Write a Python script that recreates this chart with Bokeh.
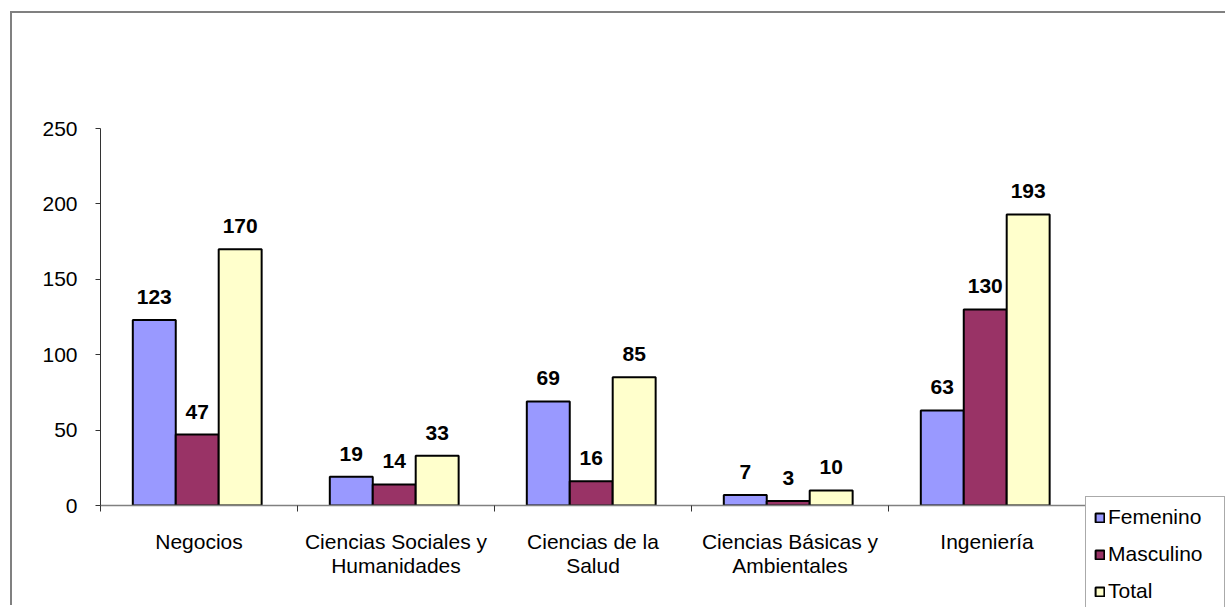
from bokeh.plotting import figure
from bokeh.models import ColumnDataSource, Range1d, FixedTicker, Legend, LegendItem
from bokeh.transform import dodge
from bokeh.core.properties import value
from bokeh.embed import file_html
from bokeh.resources import INLINE

# ---- data ----
categories = ["Negocios", "Ciencias Sociales y\nHumanidades", "Ciencias de la\nSalud",
              "Ciencias Básicas y\nAmbientales", "Ingeniería"]
femenino = [123, 19, 69, 7, 63]
masculino = [47, 14, 16, 3, 130]
total = [170, 33, 85, 10, 193]
series_names = ["Femenino", "Masculino", "Total"]
colors = ["#9999FF", "#993366", "#FFFFCC"]
y_ticks = [0, 50, 100, 150, 200, 250]

FONT = "Liberation Sans"
FS = "21px"

pos = [i + 0.5 for i in range(len(categories))]
source = ColumnDataSource(dict(
    x=pos,
    Femenino=femenino, Masculino=masculino, Total=total,
    Femenino_lbl=[str(v) for v in femenino],
    Masculino_lbl=[str(v) for v in masculino],
    Total_lbl=[str(v) for v in total],
))

p = figure(frame_width=985, frame_height=377,
           x_range=Range1d(0, len(categories)), y_range=Range1d(0, 250),
           output_backend="svg", toolbar_location=None,
           min_border_left=88, min_border_right=140,
           min_border_top=115, min_border_bottom=102)
p.margin = (13, 0, 0, 12)
p.styles = {"box-shadow": "-2px -2px 0 0 #808080"}
p.outline_line_color = None
p.xgrid.visible = False
p.ygrid.visible = False
p.background_fill_color = "white"
p.border_fill_color = "white"

bar_w = 0.218
offsets = [-0.227, -0.009, 0.209]
items = []
for name, col, off in zip(series_names, colors, offsets):
    r = p.vbar(x=dodge("x", off), top=name, width=bar_w, source=source,
               fill_color=col, line_color="black", line_width=2)
    items.append(LegendItem(label=name, renderers=[r]))
    p.text(x=dodge("x", off), y=name, text=name + "_lbl", source=source,
           text_align="center", text_baseline="middle", y_offset=-23,
           text_font=value(FONT), text_font_style="bold", text_font_size=FS,
           text_color="black")

# y axis
yax = p.yaxis[0]
yax.ticker = FixedTicker(ticks=y_ticks)
yax.major_tick_out = 5
yax.major_tick_in = 0
yax.minor_tick_out = 0
yax.minor_tick_in = 0
yax.axis_line_color = "#333333"
yax.major_tick_line_color = "#333333"
yax.major_label_standoff = 18
yax.major_label_text_font = FONT
yax.major_label_text_font_size = FS
yax.major_label_text_color = "black"

# x axis
xax = p.xaxis[0]
xax.ticker = FixedTicker(ticks=pos, minor_ticks=list(range(len(categories) + 1)))
xax.major_label_overrides = {pos[i]: categories[i] for i in range(len(categories))}
xax.major_tick_out = 0
xax.major_tick_in = 0
xax.minor_tick_out = 6
xax.minor_tick_in = 0
xax.minor_tick_line_color = "#333333"
xax.axis_line_color = "#808080"
xax.axis_line_width = 1.5
xax.major_label_standoff = 18
xax.major_label_text_font = FONT
xax.major_label_text_font_size = FS
xax.major_label_text_color = "black"
xax.major_label_text_line_height = 1.05

# legend in the right side panel, hanging below the x axis level
legend = Legend(items=items, location=(0, -107), orientation="vertical",
                label_text_font=FONT, label_text_font_size=FS,
                label_text_color="black",
                glyph_width=11, glyph_height=11, label_standoff=3,
                label_height=20, label_width=108, spacing=13, padding=8, margin=0,
                border_line_color="#555555", border_line_width=1,
                background_fill_color="white", background_fill_alpha=1.0)
p.add_layout(legend, "right")

open("out.html", "w").write(file_html(p, INLINE))
